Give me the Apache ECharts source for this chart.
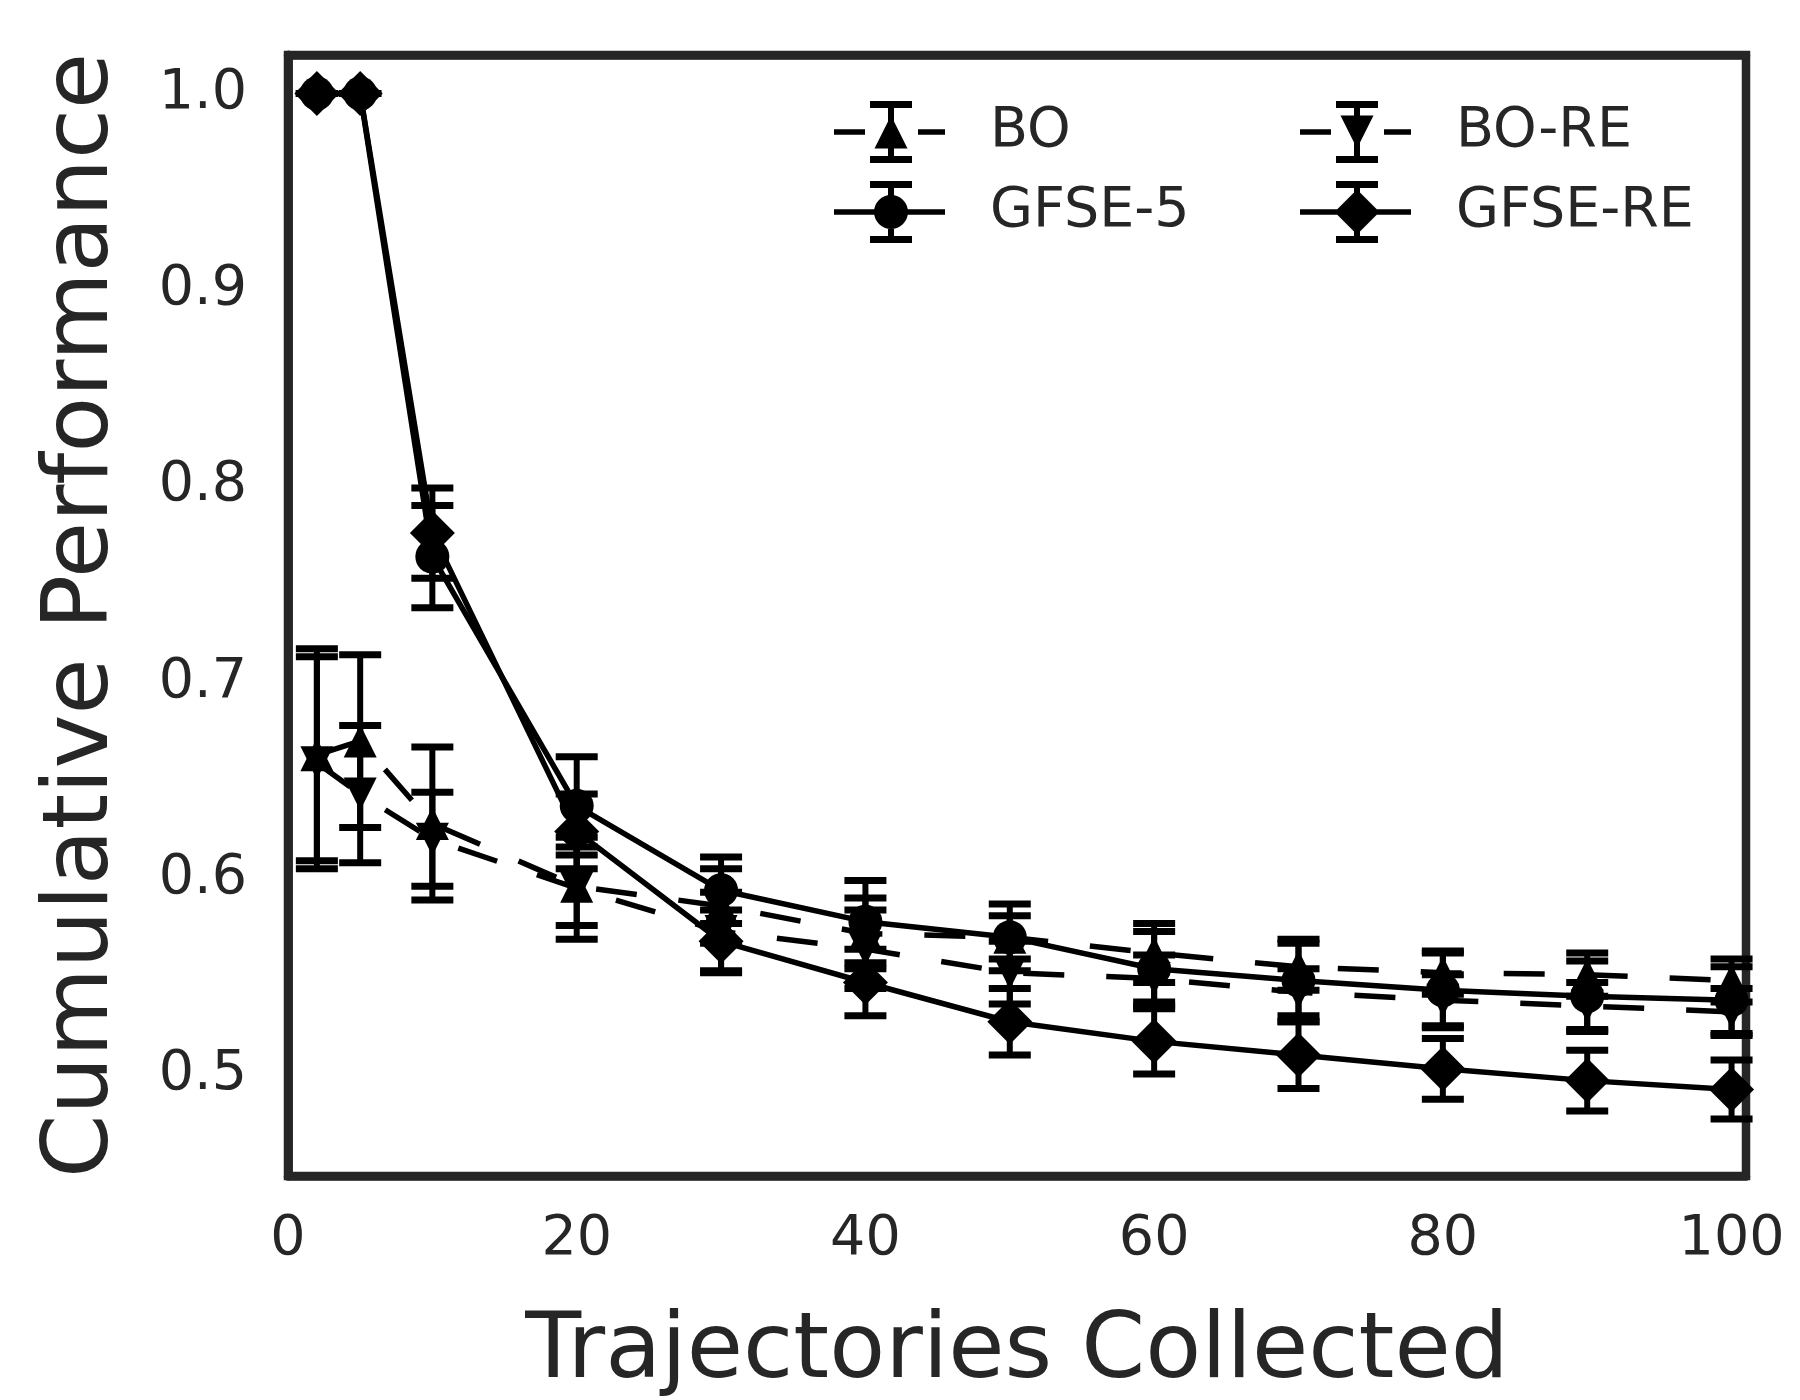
<!DOCTYPE html>
<html>
<head>
<meta charset="utf-8">
<script src="https://cdn.jsdelivr.net/npm/echarts@6/dist/echarts.min.js"></script>
<style>
html, body { margin: 0; padding: 0; background: #fff; }
#chart { width: 1800px; height: 1400px; }
</style>
</head>
<body>
<div id="chart"></div>
<script>
// trajectories collected
var xValues = [2, 5, 10, 20, 30, 40, 50, 60, 70, 80, 90, 100];
var xTicks = [0, 20, 40, 60, 80, 100];
var yTicks = [0.5, 0.6, 0.7, 0.8, 0.9, 1.0];

// mean and error per method
var boMean     = [0.663, 0.670, 0.628, 0.596, 0.586, 0.572, 0.570, 0.562, 0.555, 0.552, 0.551, 0.548];
var boErr      = [0.054, 0.044, 0.039, 0.020, 0.019, 0.018, 0.011, 0.015, 0.012, 0.011, 0.011, 0.011];
var boReMean   = [0.659, 0.643, 0.620, 0.595, 0.573, 0.564, 0.552, 0.549, 0.542, 0.538, 0.535, 0.532];
var boReErr    = [0.054, 0.035, 0.024, 0.026, 0.020, 0.020, 0.016, 0.012, 0.012, 0.013, 0.012, 0.012];
var gfse5Mean  = [1.0, 1.0, 0.764, 0.637, 0.594, 0.578, 0.570, 0.554, 0.548, 0.543, 0.540, 0.538];
var gfse5Err   = [0, 0, 0.026, 0.025, 0.017, 0.021, 0.017, 0.019, 0.021, 0.019, 0.018, 0.017];
var gfseReMean = [1.0, 1.0, 0.776, 0.624, 0.568, 0.547, 0.527, 0.517, 0.510, 0.503, 0.497, 0.4925];
var gfseReErr  = [0, 0, 0.023, 0.019, 0.016, 0.017, 0.017, 0.0166, 0.017, 0.0155, 0.0155, 0.015];

var txt = '#262626';
var font = 'DejaVu Sans';

function pts(mean) {
    return xValues.map(function (x, i) { return [x, mean[i]]; });
}
function bars(mean, err) {
    return xValues.map(function (x, i) { return [x, mean[i] - err[i], mean[i] + err[i]]; });
}

// error bar with caps
function renderErr(params, api) {
    var x = api.value(0);
    var top = api.coord([x, api.value(2)]);
    var bot = api.coord([x, api.value(1)]);
    var hw = 21;
    return {
        type: 'group',
        children: [
            { type: 'line', shape: { x1: top[0], y1: top[1], x2: bot[0], y2: bot[1] }, style: { stroke: '#000', lineWidth: 6 } },
            { type: 'line', shape: { x1: top[0] - hw, y1: top[1], x2: top[0] + hw, y2: top[1] }, style: { stroke: '#000', lineWidth: 7 } },
            { type: 'line', shape: { x1: bot[0] - hw, y1: bot[1], x2: bot[0] + hw, y2: bot[1] }, style: { stroke: '#000', lineWidth: 7 } }
        ]
    };
}

// legend handles: line + marker + error bar
function rect(x0, y0, x1, y1) {
    return 'M' + x0 + ' ' + y0 + 'L' + x1 + ' ' + y0 + 'L' + x1 + ' ' + y1 + 'L' + x0 + ' ' + y1 + 'Z';
}
var errPath = rect(54, 0, 60, 62) + rect(36, 0, 78, 7) + rect(36, 55, 78, 62);
var dashPath = rect(0, 28.25, 31, 33.75) + rect(84, 28.25, 111, 33.75);
var solidPath = rect(0, 28.25, 111, 33.75);
var icons = {
    'BO': 'path://' + dashPath + errPath + 'M57 14.5L73.5 47.5L40.5 47.5Z',
    'BO-RE': 'path://' + dashPath + errPath + 'M40.5 14.5L73.5 14.5L57 47.5Z',
    'GFSE-5': 'path://' + solidPath + errPath + 'M40 31A17 17 0 1 1 74 31A17 17 0 1 1 40 31Z',
    'GFSE-RE': 'path://' + solidPath + errPath + 'M57 8.5L79.5 31L57 53.5L34.5 31Z'
};

function legendAt(left, names) {
    return {
        left: left, top: 101, orient: 'vertical', padding: 0,
        itemWidth: 111, itemHeight: 62, itemGap: 18,
        selectedMode: false,
        itemStyle: { color: '#000', borderWidth: 0 },
        textStyle: { color: txt, fontSize: 55.5, fontFamily: font, padding: [0, 0, 0, 40] },
        data: names.map(function (n) { return { name: n, icon: icons[n] }; })
    };
}

function lineSeries(name, mean, symbol, size, dashed, rotate) {
    return {
        name: name, type: 'line', data: pts(mean),
        symbol: symbol, symbolSize: size, symbolRotate: rotate || 0,
        itemStyle: { color: '#000', borderWidth: 0 },
        lineStyle: { color: '#000', width: 5.5, type: dashed ? [41, 42] : 'solid' },
        z: 3
    };
}
function errSeries(name, mean, err) {
    return { name: name, type: 'custom', renderItem: renderErr, data: bars(mean, err), z: 3, itemStyle: { color: '#000' } };
}

var frameLine = { show: true, lineStyle: { color: txt, width: 8.5 } };

var chart = echarts.init(document.getElementById('chart'));
chart.setOption({
    animation: false,
    backgroundColor: '#fff',
    grid: { left: 288, right: 54, top: 55, bottom: 224, show: true, borderColor: txt, borderWidth: 8.5, outerBoundsMode: 'none' },
    legend: [legendAt(834, ['BO', 'GFSE-5']), legendAt(1300, ['BO-RE', 'GFSE-RE'])],
    xAxis: [{
        type: 'value', min: 0, max: 101, interval: 20, z: 10,
        axisLine: frameLine, axisTick: { show: false }, splitLine: { show: false },
        axisLabel: {
            color: txt, fontSize: 55.5, fontFamily: font, margin: 36, showMaxLabel: false,
            formatter: function (v) { return xTicks.indexOf(v) >= 0 ? String(v) : ''; }
        },
        name: 'Trajectories Collected', nameLocation: 'middle', nameGap: 131,
        nameTextStyle: { color: txt, fontSize: 91.5, fontFamily: font }
    }, {
        type: 'value', min: 0, max: 101, position: 'top', z: 10,
        axisLine: frameLine, axisTick: { show: false }, axisLabel: { show: false }, splitLine: { show: false }
    }],
    yAxis: [{
        type: 'value', min: 0.4484, max: 1.0196, z: 10,
        axisLine: frameLine, axisTick: { show: false }, splitLine: { show: false },
        axisLabel: {
            color: txt, fontSize: 55.5, fontFamily: font, margin: 41, showMinLabel: false, showMaxLabel: false,
            formatter: function (v) {
                for (var i = 0; i < yTicks.length; i++) {
                    if (Math.abs(yTicks[i] - v) < 1e-6) return yTicks[i].toFixed(1);
                }
                return '';
            }
        },
        name: 'Cumulative Performance', nameLocation: 'middle', nameGap: 159,
        nameTextStyle: { color: txt, fontSize: 91, fontFamily: font }
    }, {
        type: 'value', min: 0.4484, max: 1.0196, position: 'right', z: 10,
        axisLine: frameLine, axisTick: { show: false }, axisLabel: { show: false }, splitLine: { show: false }
    }],
    series: [
        lineSeries('BO', boMean, 'triangle', 33, true),
        errSeries('BO', boMean, boErr),
        lineSeries('GFSE-5', gfse5Mean, 'circle', 34, false),
        errSeries('GFSE-5', gfse5Mean, gfse5Err),
        lineSeries('BO-RE', boReMean, 'triangle', 33, true, 180),
        errSeries('BO-RE', boReMean, boReErr),
        lineSeries('GFSE-RE', gfseReMean, 'diamond', 45, false),
        errSeries('GFSE-RE', gfseReMean, gfseReErr)
    ]
});
</script>
</body>
</html>
